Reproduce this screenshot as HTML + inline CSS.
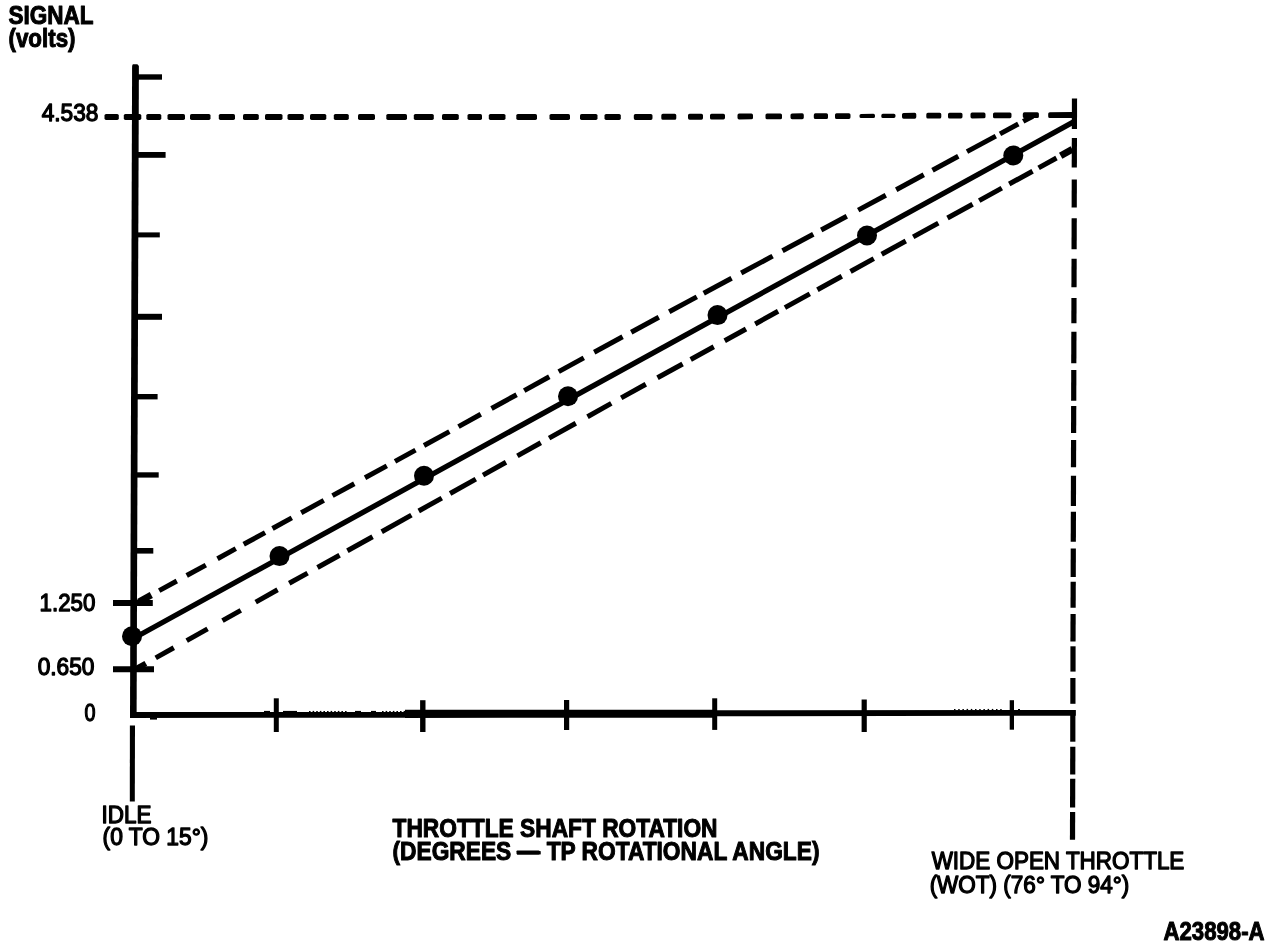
<!DOCTYPE html>
<html lang="en">
<head>
<meta charset="utf-8">
<title>TP Sensor Signal vs Throttle Shaft Rotation</title>
<style>
html,body{margin:0;padding:0;background:#fff;}
body{width:1280px;height:946px;overflow:hidden;font-family:"Liberation Sans",sans-serif;}
svg{display:block;will-change:transform;}
</style>
</head>
<body>
<svg width="1280" height="946" viewBox="0 0 1280 946" shape-rendering="geometricPrecision">
<rect x="0" y="0" width="1280" height="946" fill="#fff"/>
<g stroke="#000" fill="#000">
<g stroke="none">
<polygon points="132.1,66.0 132.8,64.2 137.4,64.2 138.9,66.0 136.6,718.0 130.0,718.0"/>
<polygon points="129.9,725.4 135.0,725.4 134.8,801.5 129.8,801.5"/>
<polygon points="130.0,711.9 405.0,711.9 405.0,717.7 130.0,717.9"/>
<polygon points="405.0,709.8 715.0,709.7 715.0,717.8 405.0,717.9"/>
<polygon points="715.0,710.2 1075.8,709.9 1075.8,715.7 715.0,716.2"/>
<polygon points="264.0,710.9 270.0,710.9 270.0,712.0 264.0,712.0"/>
<polygon points="283.0,710.9 297.0,710.9 297.0,712.0 283.0,712.0"/>
<polygon points="355.0,710.9 361.0,710.9 361.0,712.0 355.0,712.0"/>
<polygon points="371.0,710.9 376.0,710.9 376.0,712.0 371.0,712.0"/>
<polygon points="915.0,710.9 919.0,710.9 919.0,712.0 915.0,712.0"/>
<polygon points="309.0,710.9 310.6,710.9 310.6,712.0 309.0,712.0"/>
<polygon points="312.6,710.9 314.2,710.9 314.2,712.0 312.6,712.0"/>
<polygon points="316.2,710.9 317.8,710.9 317.8,712.0 316.2,712.0"/>
<polygon points="319.8,710.9 321.4,710.9 321.4,712.0 319.8,712.0"/>
<polygon points="323.4,710.9 325.0,710.9 325.0,712.0 323.4,712.0"/>
<polygon points="327.0,710.9 328.6,710.9 328.6,712.0 327.0,712.0"/>
<polygon points="330.6,710.9 332.2,710.9 332.2,712.0 330.6,712.0"/>
<polygon points="334.2,710.9 335.8,710.9 335.8,712.0 334.2,712.0"/>
<polygon points="337.8,710.9 339.4,710.9 339.4,712.0 337.8,712.0"/>
<polygon points="341.4,710.9 343.0,710.9 343.0,712.0 341.4,712.0"/>
<polygon points="345.0,710.9 346.6,710.9 346.6,712.0 345.0,712.0"/>
<polygon points="382.0,710.9 383.6,710.9 383.6,712.0 382.0,712.0"/>
<polygon points="385.6,710.9 387.2,710.9 387.2,712.0 385.6,712.0"/>
<polygon points="389.2,710.9 390.8,710.9 390.8,712.0 389.2,712.0"/>
<polygon points="392.8,710.9 394.4,710.9 394.4,712.0 392.8,712.0"/>
<polygon points="396.4,710.9 398.0,710.9 398.0,712.0 396.4,712.0"/>
<polygon points="400.0,710.9 401.6,710.9 401.6,712.0 400.0,712.0"/>
<polygon points="403.6,710.9 405.2,710.9 405.2,712.0 403.6,712.0"/>
<polygon points="954.0,708.9 955.5,708.9 955.5,710.2 954.0,710.2"/>
<polygon points="958.2,708.9 959.7,708.9 959.7,710.2 958.2,710.2"/>
<polygon points="962.4,708.9 963.9,708.9 963.9,710.2 962.4,710.2"/>
<polygon points="966.6,708.9 968.1,708.9 968.1,710.2 966.6,710.2"/>
<polygon points="970.8,708.9 972.3,708.9 972.3,710.2 970.8,710.2"/>
<polygon points="975.0,708.9 976.5,708.9 976.5,710.2 975.0,710.2"/>
<polygon points="979.2,708.9 980.7,708.9 980.7,710.2 979.2,710.2"/>
<polygon points="983.4,708.9 984.9,708.9 984.9,710.2 983.4,710.2"/>
<polygon points="987.6,708.9 989.1,708.9 989.1,710.2 987.6,710.2"/>
<polygon points="991.8,708.9 993.3,708.9 993.3,710.2 991.8,710.2"/>
<polygon points="996.0,708.9 997.5,708.9 997.5,710.2 996.0,710.2"/>
<polygon points="1000.2,708.9 1001.7,708.9 1001.7,710.2 1000.2,710.2"/>
<polygon points="1018.0,708.9 1020.0,708.9 1020.0,710.2 1018.0,710.2"/>
<polygon points="150.0,717.5 157.0,717.5 157.0,719.6 150.0,719.6"/>
</g>
<g stroke="none">
<polygon points="134.0,74.3 162.0,74.3 162.0,79.7 134.0,79.7"/>
<polygon points="134.0,152.0 165.6,152.0 165.6,157.8 134.0,157.8"/>
<polygon points="134.0,232.4 159.8,232.4 159.8,237.4 134.0,237.4"/>
<polygon points="134.0,313.8 162.0,313.8 162.0,319.8 134.0,319.8"/>
<polygon points="134.0,394.0 157.6,394.0 157.6,399.4 134.0,399.4"/>
<polygon points="134.0,472.3 158.7,472.3 158.7,477.6 134.0,477.6"/>
<polygon points="134.0,548.0 153.3,548.0 153.3,553.6 134.0,553.6"/>
<polygon points="113.0,600.0 152.8,600.0 152.8,606.0 113.0,606.0"/>
<polygon points="113.0,666.2 154.0,666.2 154.0,672.2 113.0,672.2"/>
<polygon points="273.8,698.3 278.8,698.3 278.8,732.0 273.8,732.0"/>
<polygon points="420.1,700.2 425.5,700.2 425.5,732.0 420.1,732.0"/>
<polygon points="564.0,700.0 569.2,700.0 569.2,730.0 564.0,730.0"/>
<polygon points="712.2,698.3 717.2,698.3 717.2,729.9 712.2,729.9"/>
<polygon points="861.6,699.5 866.8,699.5 866.8,732.0 861.6,732.0"/>
<polygon points="1009.7,700.2 1014.0,700.2 1014.0,729.7 1009.7,729.7"/>
</g>
<line x1="131.5" y1="639.5" x2="1074.5" y2="121.4" stroke-width="5.3" stroke-linecap="butt"/>
<circle cx="132.0" cy="636.3" r="10" stroke="none"/>
<circle cx="279.5" cy="556.1" r="10" stroke="none"/>
<circle cx="424.0" cy="475.8" r="10" stroke="none"/>
<circle cx="568.0" cy="396.3" r="10" stroke="none"/>
<circle cx="717.5" cy="315.1" r="10" stroke="none"/>
<circle cx="867.0" cy="235.5" r="10" stroke="none"/>
<circle cx="1013.3" cy="155.5" r="10" stroke="none"/>
<line x1="138.7" y1="601.9" x2="151.3" y2="595.0" stroke-width="6.6" stroke-linecap="butt"/>
<line x1="159.2" y1="590.6" x2="176.8" y2="581.0" stroke-width="5.0" stroke-linecap="butt"/>
<line x1="186.7" y1="575.5" x2="205.8" y2="565.1" stroke-width="5.0" stroke-linecap="butt"/>
<line x1="217.5" y1="558.7" x2="235.8" y2="548.6" stroke-width="5.0" stroke-linecap="butt"/>
<line x1="243.7" y1="544.3" x2="265.1" y2="532.6" stroke-width="5.0" stroke-linecap="butt"/>
<line x1="272.5" y1="528.5" x2="291.8" y2="517.9" stroke-width="5.0" stroke-linecap="butt"/>
<line x1="301.2" y1="512.8" x2="323.8" y2="500.4" stroke-width="5.0" stroke-linecap="butt"/>
<line x1="332.5" y1="495.6" x2="354.3" y2="483.7" stroke-width="5.0" stroke-linecap="butt"/>
<line x1="365.0" y1="477.8" x2="386.8" y2="465.9" stroke-width="5.0" stroke-linecap="butt"/>
<line x1="395.0" y1="461.4" x2="415.5" y2="450.1" stroke-width="5.0" stroke-linecap="butt"/>
<line x1="424.0" y1="445.5" x2="449.4" y2="431.6" stroke-width="5.0" stroke-linecap="butt"/>
<line x1="458.5" y1="426.6" x2="480.8" y2="414.3" stroke-width="5.0" stroke-linecap="butt"/>
<line x1="491.5" y1="408.5" x2="516.6" y2="394.7" stroke-width="5.0" stroke-linecap="butt"/>
<line x1="524.2" y1="390.6" x2="549.3" y2="376.8" stroke-width="5.0" stroke-linecap="butt"/>
<line x1="558.7" y1="371.6" x2="583.8" y2="357.9" stroke-width="5.0" stroke-linecap="butt"/>
<line x1="594.2" y1="352.2" x2="622.6" y2="336.8" stroke-width="5.0" stroke-linecap="butt"/>
<line x1="631.2" y1="332.2" x2="658.8" y2="317.3" stroke-width="5.0" stroke-linecap="butt"/>
<line x1="669.2" y1="311.7" x2="696.8" y2="296.9" stroke-width="5.0" stroke-linecap="butt"/>
<line x1="703.7" y1="293.2" x2="731.6" y2="278.2" stroke-width="5.0" stroke-linecap="butt"/>
<line x1="741.2" y1="273.0" x2="772.6" y2="256.1" stroke-width="5.0" stroke-linecap="butt"/>
<line x1="782.5" y1="250.8" x2="813.3" y2="234.3" stroke-width="5.0" stroke-linecap="butt"/>
<line x1="821.2" y1="230.0" x2="846.8" y2="216.2" stroke-width="5.0" stroke-linecap="butt"/>
<line x1="858.2" y1="210.1" x2="885.8" y2="195.3" stroke-width="5.0" stroke-linecap="butt"/>
<line x1="896.2" y1="189.7" x2="923.8" y2="174.8" stroke-width="5.0" stroke-linecap="butt"/>
<line x1="932.5" y1="170.2" x2="958.3" y2="156.3" stroke-width="5.0" stroke-linecap="butt"/>
<line x1="967.0" y1="151.6" x2="995.8" y2="136.1" stroke-width="5.0" stroke-linecap="butt"/>
<line x1="1000.0" y1="133.9" x2="1018.3" y2="124.0" stroke-width="5.0" stroke-linecap="butt"/>
<line x1="1023.2" y1="121.4" x2="1032.8" y2="116.2" stroke-width="5.0" stroke-linecap="butt"/>
<line x1="136.7" y1="668.5" x2="145.8" y2="663.4" stroke-width="5.6" stroke-linecap="butt"/>
<line x1="155.7" y1="657.9" x2="173.8" y2="647.8" stroke-width="5.0" stroke-linecap="butt"/>
<line x1="186.7" y1="640.6" x2="207.6" y2="628.9" stroke-width="5.0" stroke-linecap="butt"/>
<line x1="222.5" y1="620.6" x2="240.8" y2="610.4" stroke-width="5.0" stroke-linecap="butt"/>
<line x1="255.7" y1="602.1" x2="277.6" y2="589.8" stroke-width="5.0" stroke-linecap="butt"/>
<line x1="289.2" y1="583.3" x2="307.6" y2="573.1" stroke-width="5.0" stroke-linecap="butt"/>
<line x1="317.5" y1="567.5" x2="339.6" y2="555.2" stroke-width="5.0" stroke-linecap="butt"/>
<line x1="347.4" y1="550.8" x2="372.6" y2="536.7" stroke-width="5.0" stroke-linecap="butt"/>
<line x1="381.7" y1="531.7" x2="411.4" y2="515.1" stroke-width="5.0" stroke-linecap="butt"/>
<line x1="418.7" y1="511.0" x2="441.8" y2="498.1" stroke-width="5.0" stroke-linecap="butt"/>
<line x1="450.1" y1="493.5" x2="475.8" y2="479.1" stroke-width="5.0" stroke-linecap="butt"/>
<line x1="483.0" y1="475.1" x2="506.0" y2="462.2" stroke-width="5.0" stroke-linecap="butt"/>
<line x1="517.4" y1="455.9" x2="540.8" y2="442.8" stroke-width="5.0" stroke-linecap="butt"/>
<line x1="549.1" y1="438.1" x2="575.8" y2="423.2" stroke-width="5.0" stroke-linecap="butt"/>
<line x1="587.5" y1="416.7" x2="611.3" y2="403.4" stroke-width="5.0" stroke-linecap="butt"/>
<line x1="621.2" y1="397.9" x2="645.8" y2="384.2" stroke-width="5.0" stroke-linecap="butt"/>
<line x1="657.5" y1="377.8" x2="682.6" y2="364.0" stroke-width="5.0" stroke-linecap="butt"/>
<line x1="690.7" y1="359.5" x2="713.8" y2="346.8" stroke-width="5.0" stroke-linecap="butt"/>
<line x1="724.7" y1="340.8" x2="746.0" y2="329.0" stroke-width="5.0" stroke-linecap="butt"/>
<line x1="755.2" y1="324.0" x2="778.1" y2="311.3" stroke-width="5.0" stroke-linecap="butt"/>
<line x1="784.9" y1="307.6" x2="809.8" y2="293.9" stroke-width="5.0" stroke-linecap="butt"/>
<line x1="817.4" y1="289.7" x2="841.8" y2="276.3" stroke-width="5.0" stroke-linecap="butt"/>
<line x1="850.5" y1="271.5" x2="873.8" y2="258.6" stroke-width="5.0" stroke-linecap="butt"/>
<line x1="881.7" y1="254.3" x2="905.8" y2="241.0" stroke-width="5.0" stroke-linecap="butt"/>
<line x1="913.2" y1="236.9" x2="938.3" y2="223.1" stroke-width="5.0" stroke-linecap="butt"/>
<line x1="947.5" y1="218.0" x2="972.6" y2="204.2" stroke-width="5.0" stroke-linecap="butt"/>
<line x1="979.2" y1="200.6" x2="1001.8" y2="188.1" stroke-width="5.0" stroke-linecap="butt"/>
<line x1="1009.2" y1="184.0" x2="1032.6" y2="171.2" stroke-width="5.0" stroke-linecap="butt"/>
<line x1="1038.6" y1="167.9" x2="1056.5" y2="158.0" stroke-width="5.0" stroke-linecap="butt"/>
<line x1="1060.7" y1="155.7" x2="1072.3" y2="149.3" stroke-width="7.0" stroke-linecap="butt"/>
<rect x="104.5" y="113.9" width="14.3" height="6.0" rx="1.6" stroke="none" transform="rotate(0.000 104.5 116.9)"/>
<rect x="123.8" y="113.9" width="17.5" height="6.0" rx="1.6" stroke="none" transform="rotate(0.000 123.8 116.9)"/>
<rect x="146.3" y="113.9" width="15.0" height="6.0" rx="1.6" stroke="none" transform="rotate(0.000 146.3 116.9)"/>
<rect x="167.5" y="113.9" width="17.5" height="6.0" rx="1.6" stroke="none" transform="rotate(0.000 167.5 116.9)"/>
<rect x="190.0" y="113.9" width="20.5" height="6.0" rx="1.6" stroke="none" transform="rotate(0.000 190.0 116.9)"/>
<rect x="218.8" y="113.9" width="16.2" height="6.0" rx="1.6" stroke="none" transform="rotate(0.000 218.8 116.9)"/>
<rect x="243.0" y="113.9" width="15.8" height="6.0" rx="1.6" stroke="none" transform="rotate(0.000 243.0 116.9)"/>
<rect x="265.0" y="113.9" width="17.5" height="6.0" rx="1.6" stroke="none" transform="rotate(0.000 265.0 116.9)"/>
<rect x="287.5" y="113.9" width="16.3" height="6.0" rx="1.6" stroke="none" transform="rotate(0.000 287.5 116.9)"/>
<rect x="310.0" y="113.9" width="16.3" height="6.0" rx="1.6" stroke="none" transform="rotate(0.000 310.0 116.9)"/>
<rect x="333.8" y="113.9" width="15.0" height="6.0" rx="1.6" stroke="none" transform="rotate(0.000 333.8 116.9)"/>
<rect x="358.0" y="113.9" width="17.0" height="6.0" rx="1.6" stroke="none" transform="rotate(0.000 358.0 116.9)"/>
<rect x="386.3" y="113.9" width="20.7" height="6.0" rx="1.6" stroke="none" transform="rotate(0.000 386.3 116.9)"/>
<rect x="413.8" y="113.9" width="20.0" height="6.0" rx="1.6" stroke="none" transform="rotate(0.000 413.8 116.9)"/>
<rect x="442.0" y="113.9" width="16.8" height="6.0" rx="1.6" stroke="none" transform="rotate(0.000 442.0 116.9)"/>
<rect x="467.5" y="113.9" width="14.5" height="6.0" rx="1.6" stroke="none" transform="rotate(0.000 467.5 116.9)"/>
<rect x="488.8" y="113.9" width="16.7" height="6.0" rx="1.6" stroke="none" transform="rotate(0.000 488.8 116.9)"/>
<rect x="516.3" y="113.9" width="20.7" height="6.0" rx="1.6" stroke="none" transform="rotate(0.000 516.3 116.9)"/>
<rect x="549.5" y="113.9" width="20.5" height="6.0" rx="1.6" stroke="none" transform="rotate(0.000 549.5 116.9)"/>
<rect x="580.0" y="113.9" width="17.5" height="6.0" rx="1.6" stroke="none" transform="rotate(0.000 580.0 116.9)"/>
<rect x="604.5" y="113.9" width="16.3" height="6.0" rx="1.6" stroke="none" transform="rotate(0.000 604.5 116.9)"/>
<rect x="633.8" y="113.9" width="18.7" height="6.0" rx="1.6" stroke="none" transform="rotate(-0.034 633.8 116.9)"/>
<rect x="661.3" y="113.8" width="15.0" height="6.0" rx="1.6" stroke="none" transform="rotate(-0.258 661.3 116.8)"/>
<rect x="688.0" y="113.7" width="15.0" height="6.0" rx="1.6" stroke="none" transform="rotate(-0.258 688.0 116.7)"/>
<rect x="710.0" y="113.7" width="15.0" height="5.8" rx="1.6" stroke="none" transform="rotate(-0.258 710.0 116.6)"/>
<rect x="737.5" y="113.6" width="15.5" height="5.8" rx="1.6" stroke="none" transform="rotate(-0.258 737.5 116.5)"/>
<rect x="765.5" y="113.5" width="16.5" height="5.8" rx="1.6" stroke="none" transform="rotate(-0.258 765.5 116.4)"/>
<rect x="790.5" y="113.4" width="13.3" height="5.8" rx="1.6" stroke="none" transform="rotate(-0.258 790.5 116.3)"/>
<rect x="813.8" y="113.3" width="14.2" height="5.8" rx="1.6" stroke="none" transform="rotate(-0.258 813.8 116.2)"/>
<rect x="835.0" y="113.2" width="15.5" height="5.8" rx="1.6" stroke="none" transform="rotate(-0.258 835.0 116.1)"/>
<rect x="859.5" y="113.9" width="15.5" height="4.2" rx="1.6" stroke="none" transform="rotate(-0.258 859.5 116.0)"/>
<rect x="881.3" y="113.8" width="14.2" height="4.2" rx="1.6" stroke="none" transform="rotate(-0.258 881.3 115.9)"/>
<rect x="902.0" y="112.9" width="14.3" height="5.8" rx="1.6" stroke="none" transform="rotate(-0.258 902.0 115.8)"/>
<rect x="926.3" y="112.8" width="15.0" height="5.8" rx="1.6" stroke="none" transform="rotate(-0.258 926.3 115.7)"/>
<rect x="948.0" y="112.7" width="14.5" height="5.8" rx="1.6" stroke="none" transform="rotate(-0.258 948.0 115.6)"/>
<rect x="970.5" y="112.6" width="15.0" height="5.8" rx="1.6" stroke="none" transform="rotate(-0.258 970.5 115.5)"/>
<rect x="993.0" y="112.5" width="18.5" height="5.8" rx="1.6" stroke="none" transform="rotate(-0.258 993.0 115.4)"/>
<rect x="1022.8" y="112.3" width="16.1" height="5.8" rx="1.6" stroke="none" transform="rotate(-0.258 1022.8 115.2)"/>
<rect x="1048.2" y="112.2" width="25.8" height="5.8" rx="1.6" stroke="none" transform="rotate(-0.258 1048.2 115.1)"/>
<line x1="1074.5" y1="98.4" x2="1074.4" y2="128.9" stroke-width="5.2" stroke-linecap="butt"/>
<line x1="1074.4" y1="138.1" x2="1074.3" y2="167.6" stroke-width="5.2" stroke-linecap="butt"/>
<line x1="1074.3" y1="179.5" x2="1074.2" y2="207.6" stroke-width="5.2" stroke-linecap="butt"/>
<line x1="1074.2" y1="218.2" x2="1074.1" y2="249.3" stroke-width="5.2" stroke-linecap="butt"/>
<line x1="1074.1" y1="258.8" x2="1074.0" y2="287.3" stroke-width="5.2" stroke-linecap="butt"/>
<line x1="1074.0" y1="297.9" x2="1073.9" y2="323.3" stroke-width="5.2" stroke-linecap="butt"/>
<line x1="1073.9" y1="331.7" x2="1073.8" y2="363.2" stroke-width="5.2" stroke-linecap="butt"/>
<line x1="1073.8" y1="370.1" x2="1073.7" y2="400.7" stroke-width="5.2" stroke-linecap="butt"/>
<line x1="1073.7" y1="406.0" x2="1073.6" y2="432.9" stroke-width="5.2" stroke-linecap="butt"/>
<line x1="1073.6" y1="439.9" x2="1073.5" y2="467.3" stroke-width="5.2" stroke-linecap="butt"/>
<line x1="1073.5" y1="475.8" x2="1073.4" y2="506.0" stroke-width="5.2" stroke-linecap="butt"/>
<line x1="1073.4" y1="511.7" x2="1073.3" y2="541.8" stroke-width="5.2" stroke-linecap="butt"/>
<line x1="1073.3" y1="548.5" x2="1073.2" y2="576.9" stroke-width="5.2" stroke-linecap="butt"/>
<line x1="1073.2" y1="581.8" x2="1073.1" y2="607.8" stroke-width="5.2" stroke-linecap="butt"/>
<line x1="1073.1" y1="614.1" x2="1073.0" y2="641.6" stroke-width="5.2" stroke-linecap="butt"/>
<line x1="1073.0" y1="646.3" x2="1073.0" y2="671.6" stroke-width="5.2" stroke-linecap="butt"/>
<line x1="1072.9" y1="678.0" x2="1072.9" y2="703.8" stroke-width="5.2" stroke-linecap="butt"/>
<line x1="1072.8" y1="710.2" x2="1072.8" y2="741.7" stroke-width="5.2" stroke-linecap="butt"/>
<line x1="1072.8" y1="746.7" x2="1072.7" y2="774.6" stroke-width="5.2" stroke-linecap="butt"/>
<line x1="1072.7" y1="778.8" x2="1072.6" y2="807.5" stroke-width="5.2" stroke-linecap="butt"/>
<line x1="1072.6" y1="812.1" x2="1072.5" y2="839.7" stroke-width="5.2" stroke-linecap="butt"/>
</g>
<g fill="#000" font-family="'Liberation Sans', sans-serif">
<text x="8.47" y="23.6" font-size="25" font-weight="700" stroke="#000" stroke-width="1.0" stroke-linejoin="round" textLength="85.05" lengthAdjust="spacingAndGlyphs">SIGNAL</text>
<text x="8.46" y="47.3" font-size="25" font-weight="700" stroke="#000" stroke-width="1.0" stroke-linejoin="round" textLength="67.05" lengthAdjust="spacingAndGlyphs">(volts)</text>
<text x="41.63" y="121.1" font-size="23.5" stroke="#000" stroke-width="1.3" stroke-linejoin="round" textLength="56.75" lengthAdjust="spacingAndGlyphs">4.538</text>
<text x="39.59" y="611.0" font-size="23.5" stroke="#000" stroke-width="1.3" stroke-linejoin="round" textLength="55.75" lengthAdjust="spacingAndGlyphs">1.250</text>
<text x="37.64" y="674.8" font-size="23.5" stroke="#000" stroke-width="1.3" stroke-linejoin="round" textLength="56.74" lengthAdjust="spacingAndGlyphs">0.650</text>
<text x="84.49" y="721.0" font-size="23.5" stroke="#000" stroke-width="1.3" stroke-linejoin="round" textLength="11.00" lengthAdjust="spacingAndGlyphs">0</text>
<text x="101.54" y="822.7" font-size="23.5" stroke="#000" stroke-width="1.3" stroke-linejoin="round" textLength="49.88" lengthAdjust="spacingAndGlyphs">IDLE</text>
<text x="102.61" y="844.7" font-size="23.5" stroke="#000" stroke-width="1.3" stroke-linejoin="round" textLength="105.78" lengthAdjust="spacingAndGlyphs">(0 TO 15°)</text>
<text x="392.50" y="837.4" font-size="25" font-weight="700" stroke="#000" stroke-width="1.0" stroke-linejoin="round" textLength="325.01" lengthAdjust="spacingAndGlyphs">THROTTLE SHAFT ROTATION</text>
<text x="392.50" y="859.5" font-size="25" font-weight="700" stroke="#000" stroke-width="1.0" stroke-linejoin="round" textLength="427.00" lengthAdjust="spacingAndGlyphs">(DEGREES — TP ROTATIONAL ANGLE)</text>
<text x="931.65" y="869.0" font-size="23.5" stroke="#000" stroke-width="1.3" stroke-linejoin="round" textLength="252.70" lengthAdjust="spacingAndGlyphs">WIDE OPEN THROTTLE</text>
<text x="929.63" y="892.6" font-size="23.5" stroke="#000" stroke-width="1.3" stroke-linejoin="round" textLength="199.74" lengthAdjust="spacingAndGlyphs">(WOT) (76° TO 94°)</text>
<text x="1163.49" y="939.9" font-size="25" font-weight="700" stroke="#000" stroke-width="1.0" stroke-linejoin="round" textLength="101.04" lengthAdjust="spacingAndGlyphs">A23898-A</text>
<rect x="516.5" y="850.5" width="23" height="3.9" rx="0.8"/>
</g>
</svg>
</body>
</html>
